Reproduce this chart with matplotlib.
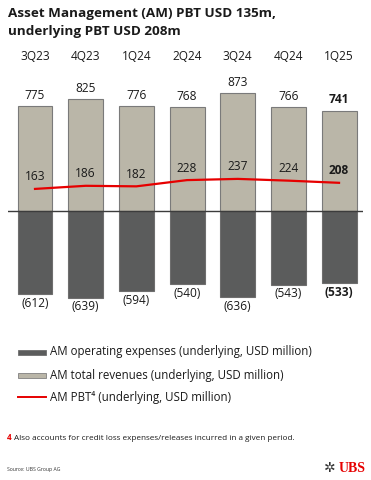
import matplotlib
matplotlib.use("Agg")
import matplotlib.pyplot as plt
from matplotlib.patches import Rectangle
from matplotlib.lines import Line2D

plt.rcParams['font.family'] = ['Open Sans', 'DejaVu Sans']

quarters = ["3Q23", "4Q23", "1Q24", "2Q24", "3Q24", "4Q24", "1Q25"]
revenues = [775, 825, 776, 768, 873, 766, 741]
expenses = [-612, -639, -594, -540, -636, -543, -533]
pbt = [163, 186, 182, 228, 237, 224, 208]

W, H = 371, 480
fig = plt.figure(figsize=(W/100, H/100), dpi=100)

def fx(px): return px / W
def fy(py): return 1 - py / H

ax_left, ax_right, ax_top, ax_bot = 8, 363, 80, 310
ax = fig.add_axes([fx(ax_left), fy(ax_bot), (ax_right-ax_left)/W, (ax_bot-ax_top)/H])
ax.set_xlim(-0.533, 6.473)
ax.set_ylim(-730.6, 966.8)
ax.axis('off')

x = list(range(len(quarters)))
rev_c = '#bab6a8'
exp_c = '#5b5c5c'
red = '#e60000'
ax.bar(x, revenues, width=0.69, color=rev_c, edgecolor='#7a7a7a', linewidth=0.8, zorder=2)
ax.bar(x, expenses, width=0.69, color=exp_c, edgecolor='#6e6e6e', linewidth=0.8, zorder=2)
ax.axhline(0, color='#3c3c3c', lw=1.0, zorder=3)
ax.plot(x, pbt, color=red, lw=1.6, zorder=4)

fs = 8.6
for i, q in enumerate(quarters):
    last = i == len(quarters) - 1
    w = 'bold' if last else 'normal'
    ax.annotate(str(revenues[i]), (i, revenues[i]), xytext=(0, 3), textcoords='offset points',
                ha='center', va='bottom', fontsize=fs, fontweight=w, color='#1a1a1a')
    ax.annotate(f"({-expenses[i]})", (i, expenses[i]), xytext=(0, -2), textcoords='offset points',
                ha='center', va='top', fontsize=fs, fontweight=w, color='#1a1a1a')
    ax.annotate(str(pbt[i]), (i, pbt[i]), xytext=(0, 4), textcoords='offset points',
                ha='center', va='bottom', fontsize=fs, fontweight=w, color='#1a1a1a')
    fig.text(fx(35 + 50.67*i), fy(57), q, ha='center', va='center', fontsize=fs, color='#1a1a1a')

fig.text(fx(8), fy(14), "Asset Management (AM) PBT USD 135m,", ha='left', va='center',
         fontsize=9.7, fontweight='bold', color='#1a1a1a')
fig.text(fx(8), fy(31), "underlying PBT USD 208m", ha='left', va='center',
         fontsize=9.7, fontweight='bold', color='#1a1a1a')

# legend
leg = [("AM operating expenses (underlying, USD million)", 'exp', 352),
       ("AM total revenues (underlying, USD million)", 'rev', 375),
       ("AM PBT⁴ (underlying, USD million)", 'line', 397)]
for label, kind, py in leg:
    if kind == 'exp':
        fig.patches.append(Rectangle((fx(18), fy(py+2.5)), 28/W, 5/H, transform=fig.transFigure,
                                     facecolor=exp_c, edgecolor='#6e6e6e', lw=0.6))
    elif kind == 'rev':
        fig.patches.append(Rectangle((fx(18), fy(py+2.5)), 28/W, 5/H, transform=fig.transFigure,
                                     facecolor=rev_c, edgecolor='#808080', lw=0.6))
    else:
        fig.lines.append(Line2D([fx(18), fx(46)], [fy(py), fy(py)], transform=fig.transFigure,
                                color=red, lw=1.4))
    fig.text(fx(50), fy(py), label, ha='left', va='center', fontsize=8.3, color='#1a1a1a')

fig.text(fx(7), fy(438), "4", ha='left', va='center', fontsize=5.9, fontweight='bold', color=red)
fig.text(fx(14), fy(438), "Also accounts for credit loss expenses/releases incurred in a given period.",
         ha='left', va='center', fontsize=5.85, color='#1a1a1a')
fig.text(fx(7), fy(470), "Source: UBS Group AG", ha='left', va='center', fontsize=3.7, color='#333333')
fig.text(fx(366), fy(468), "UBS", ha='right', va='center', fontsize=10, fontweight='bold',
         family='Liberation Serif', color=red)
fig.text(fx(336), fy(468), "✲", ha='right', va='center', fontsize=10, family='DejaVu Sans', color='#333333')

fig.savefig("out.png", dpi=100)
